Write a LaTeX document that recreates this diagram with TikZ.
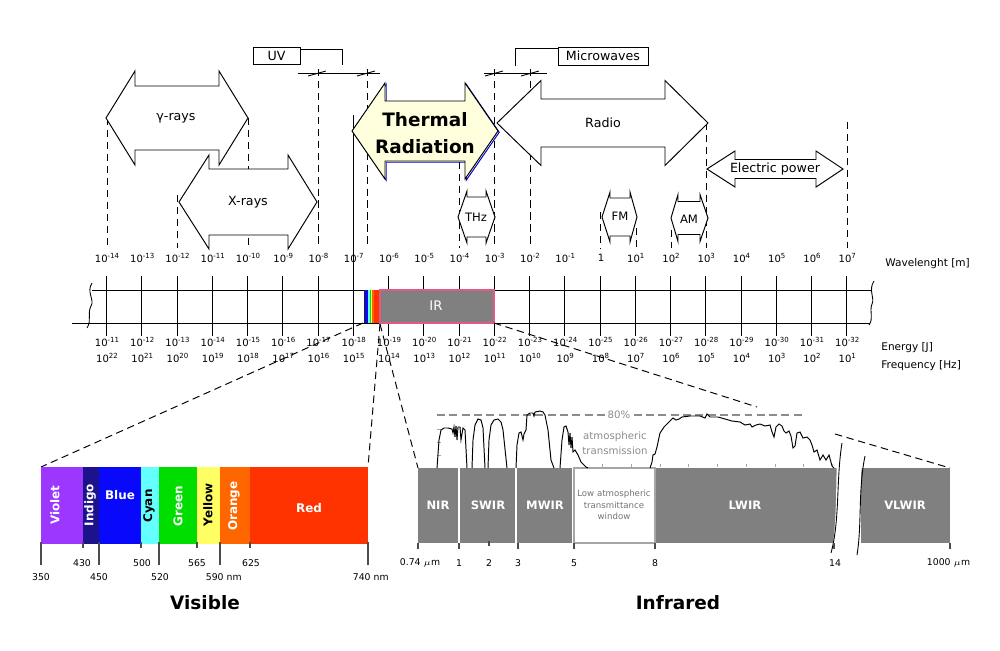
\documentclass[tikz,border=0pt]{standalone}
\usepackage{fontspec}
\setmainfont{DejaVu Sans}
\usepackage{tikz}

\definecolor{thermalfill}{RGB}{255,255,221}
\definecolor{irgray}{RGB}{128,128,128}
\definecolor{irpink}{RGB}{226,90,130}
\definecolor{violetc}{RGB}{155,55,255}
\definecolor{indigoc}{RGB}{28,18,140}
\definecolor{bluec}{RGB}{8,8,250}
\definecolor{cyanc}{RGB}{100,255,255}
\definecolor{greenc}{RGB}{0,222,0}
\definecolor{yellowc}{RGB}{255,255,100}
\definecolor{orangec}{RGB}{255,102,0}
\definecolor{redc}{RGB}{255,51,0}

\newcommand{\fs}[1]{\fontsize{#1}{#1}\selectfont}
\newcommand{\pw}[1]{10\textsuperscript{#1}}
%% double headed band arrow: [options]{tip L}{head L}{head R}{tip R}{y}{head half}{shaft half}
\newcommand{\bandarrow}[8][fill=white]{%
  \draw[bandline, #1] (#2,#6) -- (#3,#6-#7) -- (#3,#6-#8) -- (#4,#6-#8) -- (#4,#6-#7)
    -- (#5,#6) -- (#4,#6+#7) -- (#4,#6+#8) -- (#3,#6+#8) -- (#3,#6+#7) -- cycle;}

\begin{document}
\begin{tikzpicture}[x=0.2mm, y=-0.2mm,
    guide/.style={dash pattern=on 4.2pt off 2.6pt, line width=0.55pt},
    bandline/.style={line width=0.55pt, line join=miter},
    barline/.style={line width=0.5pt},
    ticklab/.style={font=\fs{5.7pt}, inner sep=0pt},
    bandlab/.style={font=\fs{7.2pt}, inner sep=0pt},
    axislab/.style={font=\fs{6pt}, inner sep=0pt, anchor=west},
    colorlab/.style={font=\fs{6.8pt}\bfseries, inner sep=0pt, text=white},
    irbox/.style={fill=irgray, draw=none},
    irlab/.style={font=\fs{6.6pt}\bfseries, inner sep=0pt, text=white},
    spectick/.style={line width=0.9pt, draw=black!70},
    numlab/.style={font=\fs{5.3pt}, inner sep=0pt},
    graytext/.style={font=\fs{5.8pt}, text=black!45, inner sep=0pt},
    titlelab/.style={font=\fs{10.5pt}\bfseries, inner sep=0pt}]

  \useasboundingbox (0,0) rectangle (1000,650);

  %% Guides
  \draw[guide] (107,118) -- (107,248);
  \draw[guide] (177,195) -- (177,248);
  \draw[guide] (248,118) -- (248,248);
  \draw[guide] (318,69) -- (318,248);
  \draw[guide] (367,69) -- (367,248);
  \draw[guide] (459,150) -- (459,248);
  \draw[guide] (494,69) -- (494,248);
  \draw[guide] (530,69) -- (530,248);
  \draw[guide] (600,212) -- (600,248);
  \draw[guide] (636,228) -- (636,248);
  \draw[guide] (671,230) -- (671,248);
  \draw[guide] (706,123) -- (706,248);
  \draw[guide] (847,122) -- (847,248);
  \draw[barline] (353,115) -- (353,276);

  %% UV and microwaves
  \node[draw, minimum width=47*0.2mm, minimum height=17*0.2mm, inner sep=0pt, font=\fs{7.2pt}] (uv) at (276.5,55.5) {UV};
  \draw[line width=0.5pt] (uv.north east |- 0,49) -- (342,49) -- (342,65);
  \draw[line width=0.5pt] (298,73) -- (380,73);
  \draw[line width=0.5pt] (308,76) -- (326,71) (357,76) -- (375,71);
  \node[draw, minimum width=90*0.2mm, minimum height=18*0.2mm, inner sep=0pt, font=\fs{7.2pt}] (micro) at (603,56) {Microwaves};
  \draw[line width=0.5pt] (micro.north west |- 0,48) -- (515,48) -- (515,66);
  \draw[line width=0.5pt] (484,73) -- (547,73);
  \draw[line width=0.5pt] (485,76) -- (503,71) (521,76) -- (539,71);

  %% Bands
  \bandarrow{106}{135}{219}{248}{118}{47}{32}
  \bandarrow{179}{209}{288}{317}{202}{47}{33}
  \bandarrow[draw=blue!80!black, xshift=0.7pt, yshift=-0.7pt]{352}{385}{465}{498}{131}{48}{30}
  \bandarrow[fill=thermalfill]{352}{385}{465}{498}{131}{48}{30}
  \bandarrow{497}{541}{665}{708}{123}{42.5}{24}
  \bandarrow{707}{735}{816}{843}{169}{18}{9.5}
  \bandarrow{458}{467}{486}{495}{217}{26}{20}
  \bandarrow{602}{610}{630}{637}{217}{25}{19}
  \bandarrow{671}{678}{700}{708}{218}{23.5}{16.5}
  \node[bandlab] (gamma) at (176,118) {γ-rays};
  \node[bandlab] (xray) at (248,202) {X-rays};
  \node[font=\fontsize{10.5pt}{15pt}\selectfont\bfseries, align=center, inner sep=0pt] (thermal) at (425,133) {Thermal\\Radiation};
  \node[bandlab] (radio) at (603,123) {Radio};
  \node[bandlab] (power) at (775,169) {Electric power};
  \node[bandlab, font=\fs{6.6pt}] (thz) at (476,217) {THz};
  \node[bandlab, font=\fs{6.6pt}] (fm) at (620,216) {FM};
  \node[bandlab, font=\fs{6.6pt}] (am) at (689,219) {AM};

  %% Scale
  \draw[barline] (92,290) -- (871,290);
  \draw[barline] (72,323) -- (870,323);
  \draw[barline] (92,283) .. controls (86,292) and (95,300) .. (91,306) .. controls (87,314) and (92,320) .. (87,328);
  \draw[barline] (874,281) .. controls (868,290) and (875,298) .. (872,304) .. controls (869,312) and (874,318) .. (869,325);
  \draw[barline] (353,276) -- (353,336);
  \foreach \k in {-14,...,7}{
    \pgfmathsetmacro{\xx}{106.5+35.25*(\k+14)}
    \pgfmathtruncatemacro{\en}{-25-\k}
    \pgfmathtruncatemacro{\fr}{8-\k}
    \draw[barline] (\xx,276) -- (\xx,336);
    \node[ticklab] (wl\k) at (\xx+1,258) {\ifnum\k=0 1\else\pw{\k}\fi};
    \node[ticklab] (en\k) at (\xx+1,342) {\pw{\en}};
    \node[ticklab] (fr\k) at (\xx+1,358) {\pw{\fr}};
  }
  \fill[indigoc] (363.5,290) rectangle (366,323);
  \fill[bluec] (366,290) rectangle (368,323);
  \fill[cyanc] (368,290) rectangle (369.5,323);
  \fill[greenc] (369.5,290) rectangle (371,323);
  \fill[yellowc] (371,290) rectangle (372,323);
  \fill[orangec] (372,290) rectangle (374,323);
  \fill[redc] (374,290) rectangle (380,323);
  \draw[fill=irgray, draw=irpink, line width=0.6pt] (380,290) rectangle (494,323);
  \node[font=\fs{7.5pt}, text=white, inner sep=0pt] (ir) at (436,306) {IR};
  \node[axislab] (wlab) at (885,264) {Wavelenght [m]};
  \node[axislab] (elab) at (881,348) {Energy [J]};
  \node[axislab] (flab) at (881,366) {Frequency [Hz]};

  %% Zoom lines
  \draw[guide] (363,323) -- (41,467);
  \draw[guide] (380,324) -- (368,467);
  \draw[guide] (380,324) -- (418,468);
  \draw[guide] (494,323) -- (757,407);
  \draw[guide] (835,434) -- (950,468);

  %% Visible
  \fill[violetc] (41,467) rectangle (83,544);
  \fill[indigoc] (83,467) rectangle (99,544);
  \fill[bluec] (99,467) rectangle (141,544);
  \fill[cyanc] (141,467) rectangle (159,544);
  \fill[greenc] (159,467) rectangle (197,544);
  \fill[yellowc] (197,467) rectangle (220,544);
  \fill[orangec] (220,467) rectangle (250,544);
  \fill[redc] (250,467) rectangle (368,544);
  \node[colorlab, rotate=90] (violet) at (55,505) {Violet};
  \node[colorlab, rotate=90] (indigo) at (90,505) {Indigo};
  \node[colorlab] (blue) at (120,495) {Blue};
  \node[colorlab, rotate=90, text=black] (cyan) at (149,506) {Cyan};
  \node[colorlab, rotate=90] (green) at (178,506) {Green};
  \node[colorlab, rotate=90, text=black] (yellow) at (208,505) {Yellow};
  \node[colorlab, rotate=90] (orange) at (234,506) {Orange};
  \node[colorlab] (red) at (309,508) {Red};
  \foreach \x in {41,99,159,220,368} \draw[spectick] (\x,542) -- (\x,565);
  \foreach \x in {83,141,197,250} \draw[spectick] (\x,542) -- (\x,548);
  \node[numlab] (n430) at (82,563) {430};
  \node[numlab] (n500) at (142,563) {500};
  \node[numlab] (n565) at (197,563) {565};
  \node[numlab] (n625) at (251,563) {625};
  \node[numlab] (n350) at (41,577) {350};
  \node[numlab] (n450) at (99,577) {450};
  \node[numlab] (n520) at (160,577) {520};
  \node[numlab, anchor=east] (n590) at (224,577) {590\rlap{ nm}};
  \node[numlab, anchor=east] (n740) at (371,577) {740\rlap{ nm}};
  \node[titlelab] (visible) at (205,603) {Visible};

  %% Infrared
  \fill[irbox] (418,468) rectangle (458,543);
  \fill[irbox] (460,468) rectangle (515,543);
  \fill[irbox] (517,468) rectangle (572,543);
  \draw[fill=white, draw=black!35, line width=0.6pt] (574,468) rectangle (655,543);
  \fill[irbox] (656,468) rectangle (837,543);
  \fill[irbox] (861,468) rectangle (950,543);
  \fill[white] (838,440) .. controls (835,480) and (838,520) .. (831,555) -- (855,555) .. controls (860,520) and (857,490) .. (864,455) -- cycle;
  \draw[barline] (842,443) .. controls (836,480) and (840,520) .. (831,553);
  \draw[barline] (865,456) .. controls (858,490) and (862,525) .. (857,555);
  \node[irlab] (nir) at (438,505) {NIR};
  \node[irlab] (swir) at (488,505) {SWIR};
  \node[irlab] (mwir) at (545,505) {MWIR};
  \node[font=\fontsize{4.9pt}{6.6pt}\selectfont, text=black!55, align=center, inner sep=0pt] (window) at (614,505) {Low atmospheric\\transmittance\\window};
  \node[irlab] (lwir) at (745,505) {LWIR};
  \node[irlab] (vlwir) at (905,505) {VLWIR};
  \foreach \x in {418,459,518,574,655,834,950} \draw[spectick] (\x,543) -- (\x,549);
  \draw[spectick] (489,541) -- (489,546);
  \node[numlab, anchor=east] (n074) at (421,563) {0.74\rlap{ $\mu$m}};
  \node[numlab] (n1) at (459,563) {1};
  \node[numlab] (n2) at (489,563) {2};
  \node[numlab] (n3) at (518,563) {3};
  \node[numlab] (n5) at (574,563) {5};
  \node[numlab] (n8) at (655,563) {8};
  \node[numlab] (n14) at (835,563) {14};
  \node[numlab, anchor=east] (n1000) at (951,563) {1000\rlap{ $\mu$m}};
  \node[titlelab] (infrared) at (678,603) {Infrared};

  %% Atmospheric transmission
  \draw[dash pattern=on 4.5pt off 2.5pt, draw=black!45, line width=0.6pt] (437,415) -- (803,415);
  \node[graytext, fill=white, inner sep=1pt] (pct) at (619,415) {80\%};
  \node[graytext] (atm1) at (615,437) {atmospheric};
  \node[graytext] (atm2) at (615,451) {transmission};
  \foreach \y in {429,442,455} \draw[black!35, line width=0.4pt] (437,\y) -- (441,\y);
  \foreach \i in {1,...,9} \draw[black!35, line width=0.4pt] (574+28.7*\i,467) -- (574+28.7*\i,464);
  \draw[line width=0.55pt] plot coordinates {(437,468) (439,440) (441,430) (444,428) (448,428) (452,429) (453,433) (454,427) (455,437) (456,426) (457,440) (458,427) (460,427) (461,440) (463,428) (465,430) (467,468)};
  \draw[line width=0.55pt] plot coordinates {(472,468) (473,440) (475,425) (478,419) (481,420) (483,428) (485,468)};
  \draw[line width=0.55pt] plot coordinates {(488,468) (489,440) (491,425) (494,420) (498,419) (501,422) (503,430) (507,468)};
  \draw[line width=0.55pt] plot coordinates {(516,468) (517,445) (519,433) (521,432) (523,440) (524,434) (526,430) (527,415) (530,413) (533,413) (534,416) (535,412) (540,411) (543,412) (545,415) (548,430) (551,460) (554,468)};
  \draw[line width=0.55pt] plot coordinates {(560,468) (562,440) (564,427) (566,426) (568,432) (569,445) (570,433) (571,448) (572,437) (573,452) (575,450) (578,455) (581,462) (586,467) (588,468)};
  \draw[line width=0.55pt] plot coordinates {(650,468) (652,462) (653,455) (655,454) (657,447) (660,433) (664,427) (668,423) (670,421) (673,418) (676,420) (679,419) (682,417) (690,416) (700,416) (705,418) (707,414) (710,417) (718,417) (725,419) (732,421) (740,422) (745,425) (750,424) (752,427) (756,425) (760,424) (765,426) (770,425) (772,432) (774,437) (776,427) (779,424) (782,426) (784,431) (786,433) (789,431) (791,436) (793,448) (795,446) (797,433) (800,432) (803,438) (807,437) (810,440) (812,445) (814,452) (817,450) (820,460) (823,455) (826,460) (829,455) (832,466) (834,468)};

\end{tikzpicture}
\end{document}
